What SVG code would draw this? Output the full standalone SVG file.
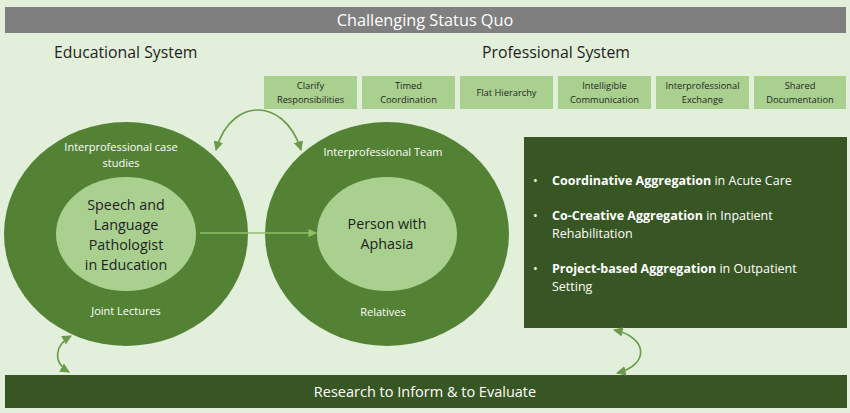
<svg xmlns="http://www.w3.org/2000/svg" width="850" height="413" viewBox="0 0 850 413">
<defs>
<style>
text{font-family:"Open Sans","Noto Sans","Liberation Sans",sans-serif;}
.w{fill:#ffffff;}
.d{fill:#1e1e1e;}
.box{fill:#a9d08e;}
.tag{font-size:9.3px;fill:#262626;text-anchor:middle;}
.outer{fill:#548235;}
.inner{fill:#a9d08e;}
.conn{fill:none;stroke:#6a9a4c;stroke-width:1.6;}
.flow{fill:none;stroke:#8cc06a;stroke-width:1.4;}
</style>
<marker id="ah" viewBox="0 0 10 10" refX="9" refY="5" markerWidth="6" markerHeight="6" orient="auto-start-reverse">
<path d="M0,0 L10,5 L0,10 Z" fill="#6a9a4c"/>
</marker>
<marker id="ah2" viewBox="0 0 10 10" refX="9" refY="5" markerWidth="6" markerHeight="6" orient="auto">
<path d="M0,0 L10,5 L0,10 Z" fill="#8cc06a"/>
</marker>
</defs>
<rect x="0" y="0" width="850" height="413" fill="#e2efda"/>

<g id="title">
<rect x="5" y="7" width="841" height="26" fill="#7f7f7f"/>
<text x="425" y="26" font-size="16.3" class="w" text-anchor="middle">Challenging Status Quo</text>
</g>

<g id="educational-label"><text x="54" y="58" font-size="15.8" class="d">Educational System</text></g>
<g id="professional-label"><text x="556" y="58" font-size="15.8" class="d" text-anchor="middle">Professional System</text></g>

<g id="tag-clarify"><rect class="box" x="264" y="76" width="93" height="33"/><text class="tag" x="310.5" y="89">Clarify</text><text class="tag" x="310.5" y="103">Responsibilities</text></g>
<g id="tag-timed"><rect class="box" x="362" y="76" width="93" height="33"/><text class="tag" x="408.5" y="89">Timed</text><text class="tag" x="408.5" y="103">Coordination</text></g>
<g id="tag-flat"><rect class="box" x="460" y="76" width="93" height="33"/><text class="tag" x="506.5" y="96">Flat Hierarchy</text></g>
<g id="tag-intelligible"><rect class="box" x="558" y="76" width="93" height="33"/><text class="tag" x="604.5" y="89">Intelligible</text><text class="tag" x="604.5" y="103">Communication</text></g>
<g id="tag-exchange"><rect class="box" x="656" y="76" width="93" height="33"/><text class="tag" x="702.5" y="89">Interprofessional</text><text class="tag" x="702.5" y="103">Exchange</text></g>
<g id="tag-documentation"><rect class="box" x="754" y="76" width="92" height="33"/><text class="tag" x="800" y="89">Shared</text><text class="tag" x="800" y="103">Documentation</text></g>

<g id="educational-circle">
<ellipse class="outer" cx="126" cy="234" rx="122" ry="112"/>
<text class="w" x="121" y="151" font-size="11" text-anchor="middle">Interprofessional case</text>
<text class="w" x="121" y="167" font-size="11" text-anchor="middle">studies</text>
<text class="w" x="126" y="315" font-size="11" text-anchor="middle">Joint Lectures</text>
</g>
<g id="slp">
<ellipse class="inner" cx="126" cy="234" rx="70" ry="57"/>
<text class="d" x="126" y="210" font-size="14.3" text-anchor="middle">Speech and</text>
<text class="d" x="126" y="230" font-size="14.3" text-anchor="middle">Language</text>
<text class="d" x="126" y="250" font-size="14.3" text-anchor="middle">Pathologist</text>
<text class="d" x="126" y="270" font-size="14.3" text-anchor="middle">in Education</text>
</g>

<g id="professional-circle">
<ellipse class="outer" cx="387" cy="234" rx="122" ry="112"/>
<text class="w" x="383" y="156" font-size="11" text-anchor="middle">Interprofessional Team</text>
<text class="w" x="383" y="316" font-size="11" text-anchor="middle">Relatives</text>
</g>
<g id="pwa">
<ellipse class="inner" cx="387" cy="234" rx="70" ry="57"/>
<text class="d" x="387" y="229" font-size="14.3" text-anchor="middle">Person with</text>
<text class="d" x="387" y="249" font-size="14.3" text-anchor="middle">Aphasia</text>
</g>

<g id="aggregation">
<rect x="524" y="137" width="323" height="191" fill="#375623"/>
<text class="w" x="533" y="185" font-size="12.5">•</text>
<text class="w" x="552" y="185" font-size="12.5"><tspan font-weight="bold">Coordinative Aggregation</tspan> in Acute Care</text>
<text class="w" x="533" y="220" font-size="12.5">•</text>
<text class="w" x="552" y="220" font-size="12.5"><tspan font-weight="bold">Co-Creative Aggregation</tspan> in Inpatient</text>
<text class="w" x="552" y="238" font-size="12.5">Rehabilitation</text>
<text class="w" x="533" y="273" font-size="12.5">•</text>
<text class="w" x="552" y="273" font-size="12.5"><tspan font-weight="bold">Project-based Aggregation</tspan> in Outpatient</text>
<text class="w" x="552" y="291" font-size="12.5">Setting</text>
</g>

<g id="research">
<rect x="5" y="375" width="842" height="33" fill="#375623"/>
<text class="w" x="425" y="397" font-size="14.5" text-anchor="middle">Research to Inform &amp; to Evaluate</text>
</g>

<g id="connectors">
<path class="flow" d="M200,233 L316,233" marker-end="url(#ah2)"/>
<path class="conn" d="M216,150 C225,118 245,110 258,110 C272,110 292,120 301,150" marker-start="url(#ah)" marker-end="url(#ah)"/>
<path class="conn" d="M71,336 C55,345 52,362 69,372" marker-start="url(#ah)" marker-end="url(#ah)"/>
<path class="conn" d="M614,330 C648,337 650,365 617,373" marker-start="url(#ah)" marker-end="url(#ah)"/>
</g>
</svg>
